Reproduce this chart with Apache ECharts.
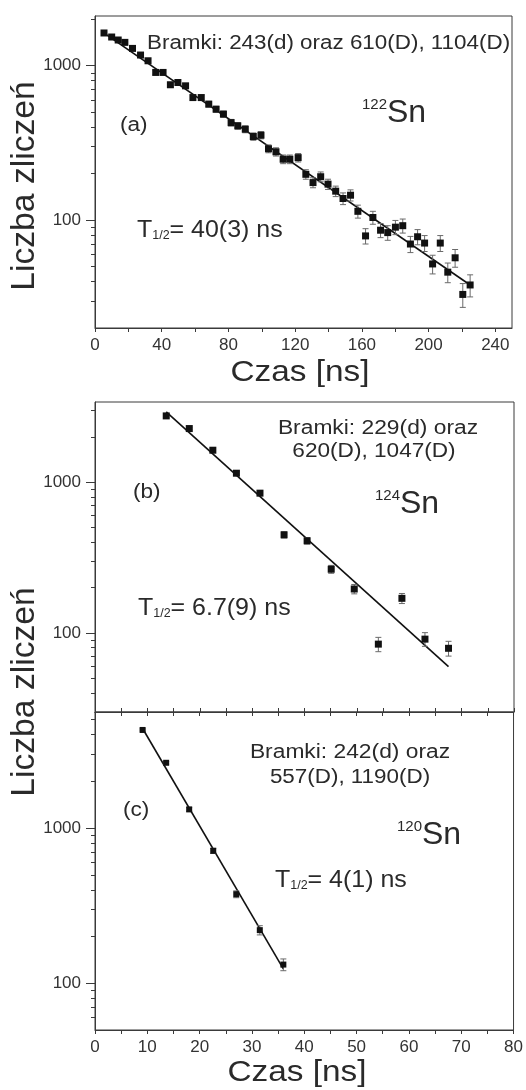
<!DOCTYPE html>
<html><head><meta charset="utf-8">
<script src="https://cdn.jsdelivr.net/npm/echarts@6/dist/echarts.min.js"></script>
<style>html,body{margin:0;padding:0;background:#fff}#c{width:526px;height:1090px}</style>
</head><body><div id="c"></div>
<script>
// ---- Panel (a): 122Sn ----
const timeA = [5.4, 10.0, 13.9, 17.9, 22.5, 27.3, 31.8, 36.4, 40.8, 45.2, 49.7, 54.3, 58.7, 63.7, 68.2, 72.6, 77.0, 81.6, 85.6, 90.1, 94.9, 99.5, 104.0, 108.5, 112.8, 116.8, 121.8, 126.4, 130.7, 135.3, 139.7, 144.3, 148.7, 153.2, 157.6, 162.2, 166.6, 171.2, 175.5, 180.1, 184.5, 189.1, 193.4, 197.6, 202.4, 207.0, 211.5, 215.9, 220.5, 224.9];
const countsA = [1630, 1535, 1468, 1417, 1295, 1173, 1077, 905, 905, 753, 779, 741, 622, 622, 564, 523, 486, 428, 408, 388, 348, 355, 290, 277, 248, 248, 254, 198, 175, 191, 171, 154, 138, 145, 114, 79, 104, 86, 83, 90, 92, 70, 78, 71, 52, 71, 46, 57, 33, 38];
const errA = [40, 39, 38, 38, 36, 34, 33, 30, 30, 27, 28, 27, 25, 25, 24, 23, 22, 21, 20, 20, 19, 19, 17, 17, 16, 16, 16, 14, 13, 14, 13, 12, 12, 12, 11, 9, 10, 9, 9, 9.5, 9.6, 8.4, 8.8, 8.4, 7.2, 8.4, 6.7, 7.5, 5.8, 6.2];
const fitTimeA = [4.8, 224.9];
const fitCountsA = [1644, 38];

// ---- Panel (b): 124Sn ----
const timeB = [13.6, 18.0, 22.5, 27.0, 31.5, 36.1, 40.5, 45.1, 49.5, 54.1, 58.6, 63.0, 67.5];
const countsB = [2750, 2267, 1629, 1147, 846, 448, 409, 265, 196, 84.5, 170, 91.2, 79.3];
const errB = [52, 48, 40, 34, 29, 21, 20, 16, 14, 9.2, 13, 9.5, 8.9];
const fitTimeB = [13.6, 67.5];
const fitCountsB = [2926, 60];

// ---- Panel (c): 120Sn ----
const timeC = [9.1, 13.6, 18.0, 22.6, 27.0, 31.5, 36.0];
const countsC = [4290, 2636, 1320, 714, 375, 220, 132];
const errC = [65, 51, 36, 27, 19, 15, 11.5];
const fitTimeC = [9.1, 36.0];
const fitCountsC = [4385, 124];

// ---- Axis ticks / labels ----
const xTicksA = [0, 20, 40, 60, 80, 100, 120, 140, 160, 180, 200, 220, 240];
const xLabelsA = [0, 40, 80, 120, 160, 200, 240];
const xTicksBC = [0, 5, 10, 15, 20, 25, 30, 35, 40, 45, 50, 55, 60, 65, 70, 75, 80];
const xLabelsBC = [0, 10, 20, 30, 40, 50, 60, 70, 80];
const yLabels = [100, 1000];
const yMinorA = [30, 40, 50, 60, 70, 80, 90, 200, 300, 400, 500, 600, 700, 800, 900, 2000];
const yMinorB = [40, 50, 60, 70, 80, 90, 200, 300, 400, 500, 600, 700, 800, 900, 2000, 3000];
const yMinorC = [60, 70, 80, 90, 200, 300, 400, 500, 600, 700, 800, 900, 2000, 3000, 4000, 5000];

const FONT = 'Liberation Sans, Arial, Helvetica, sans-serif';
const AX = '#3a3a3a';
const TXT = '#2a2a2a';

const zip = (a, b) => a.map((v, i) => [v, b[i]]);
const zip3 = (a, b, c) => a.map((v, i) => [v, b[i], c[i]]);

function xAxisDef(grid, max, ticks, labels, pos, inside) {
  return {
    gridIndex: grid, type: 'value', min: 0, max: max, position: pos,
    axisLine: { show: true, lineStyle: { color: AX, width: 1 } },
    splitLine: { show: false },
    axisTick: { show: true, inside: inside, length: 4, customValues: ticks, lineStyle: { color: AX } },
    axisLabel: labels ? { customValues: labels, fontSize: 17, color: '#333', margin: 9, fontFamily: FONT } : { show: false }
  };
}
function yMajor(grid, min, max) {
  return {
    gridIndex: grid, type: 'log', logBase: 10, min: min, max: max, position: 'left', offset: 0,
    axisLine: { show: true, lineStyle: { color: AX, width: 1 } },
    splitLine: { show: false },
    axisTick: { show: true, length: 9, customValues: yLabels, lineStyle: { color: AX } },
    axisLabel: { customValues: yLabels, formatter: v => String(Math.round(v)), fontSize: 17, color: '#333', margin: 14, fontFamily: FONT }
  };
}
function yMinor(grid, min, max, ticks) {
  return {
    gridIndex: grid, type: 'log', logBase: 10, min: min, max: max, position: 'left', offset: 0,
    axisLine: { show: false },
    splitLine: { show: false },
    axisTick: { show: true, length: 4, customValues: ticks, lineStyle: { color: AX } },
    axisLabel: { show: false }
  };
}
function errSeries(xi, yi, data, cap) {
  return {
    type: 'custom', xAxisIndex: xi, yAxisIndex: yi, z: 3,
    encode: { x: 0, y: 1 },
    data: data,
    renderItem: function (params, api) {
      const x = api.value(0), y = api.value(1), e = api.value(2);
      const lo = api.coord([x, y - e]);
      const hi = api.coord([x, y + e]);
      const st = { stroke: '#6a6a6a', lineWidth: 1 };
      return { type: 'group', children: [
        { type: 'line', shape: { x1: lo[0], y1: lo[1], x2: hi[0], y2: hi[1] }, style: st },
        { type: 'line', shape: { x1: lo[0] - cap, y1: lo[1], x2: lo[0] + cap, y2: lo[1] }, style: st },
        { type: 'line', shape: { x1: hi[0] - cap, y1: hi[1], x2: hi[0] + cap, y2: hi[1] }, style: st }
      ] };
    }
  };
}
function fitSeries(xi, yi, data) {
  return { type: 'line', xAxisIndex: xi, yAxisIndex: yi, data: data, showSymbol: false, symbol: 'none', z: 2,
    lineStyle: { color: '#111', width: 1.6 }, silent: true };
}
function ptSeries(xi, yi, data, size) {
  return { type: 'scatter', xAxisIndex: xi, yAxisIndex: yi, data: data, symbol: 'rect', symbolSize: size, z: 4,
    itemStyle: { color: '#111', opacity: 1 } };
}
function txt(x, y, text, size, align, sx) {
  return { type: 'text', x: x, y: y, scaleX: sx || 1, z: 100,
    style: { text: text, fontSize: size, fontFamily: FONT, fill: TXT, align: align, verticalAlign: 'middle' } };
}
function isotope(x, y, mass) {
  return { type: 'text', x: x, y: y, z: 100,
    style: { text: '{s|' + mass + '}{b|Sn}', align: 'left', verticalAlign: 'middle', fill: TXT, fontFamily: FONT,
      rich: { s: { fontSize: 15, fontFamily: FONT, fill: TXT, verticalAlign: 'top' },
              b: { fontSize: 32, fontFamily: FONT, fill: TXT } } } };
}
function halfLife(x, y, rest, sx) {
  return { type: 'text', x: x, y: y, z: 100, scaleX: sx || 1,
    style: { text: '{b|T}{s|1/2}{b|= ' + rest + '}', align: 'left', verticalAlign: 'middle', fill: TXT, fontFamily: FONT,
      rich: { b: { fontSize: 24, fontFamily: FONT, fill: TXT },
              s: { fontSize: 12, fontFamily: FONT, fill: TXT, verticalAlign: 'bottom' } } } };
}
function vTitle(x, y, text, sx) {
  return { type: 'text', x: x, y: y, rotation: Math.PI / 2, scaleX: sx, z: 100,
    style: { text: text, fontSize: 33, fontFamily: FONT, fill: TXT, align: 'center', verticalAlign: 'middle' } };
}

const chart = echarts.init(document.getElementById('c'), null, { renderer: 'canvas' });
chart.setOption({
  animation: false,
  backgroundColor: '#fff',
  grid: [
    { left: 95, top: 16, width: 417, height: 312, show: true, borderColor: AX, borderWidth: 1, backgroundColor: 'transparent' },
    { left: 95, top: 402, width: 419, height: 310, show: true, borderColor: AX, borderWidth: 1, backgroundColor: 'transparent' },
    { left: 95, top: 712, width: 419, height: 318, show: true, borderColor: AX, borderWidth: 1, backgroundColor: 'transparent' }
  ],
  xAxis: [
    xAxisDef(0, 250, xTicksA, xLabelsA, 'bottom', false),
    xAxisDef(1, 80, xTicksBC, null, 'bottom', true),
    xAxisDef(2, 80, xTicksBC, xLabelsBC, 'bottom', false),
    xAxisDef(2, 80, xTicksBC, null, 'top', true)
  ],
  yAxis: [
    yMajor(0, 20, 2100), yMinor(0, 20, 2100, yMinorA),
    yMajor(1, 30, 3400), yMinor(1, 30, 3400, yMinorB),
    yMajor(2, 50, 5600), yMinor(2, 50, 5600, yMinorC)
  ],
  series: [
    fitSeries(0, 0, zip(fitTimeA, fitCountsA)),
    errSeries(0, 0, zip3(timeA, countsA, errA), 3),
    ptSeries(0, 0, zip(timeA, countsA), 7),
    fitSeries(1, 2, zip(fitTimeB, fitCountsB)),
    errSeries(1, 2, zip3(timeB, countsB, errB), 3),
    ptSeries(1, 2, zip(timeB, countsB), 7),
    fitSeries(2, 4, zip(fitTimeC, fitCountsC)),
    errSeries(2, 4, zip3(timeC, countsC, errC), 3),
    ptSeries(2, 4, zip(timeC, countsC), 6)
  ],
  graphic: [
    txt(147, 43, 'Bramki: 243(d) oraz 610(D), 1104(D)', 20, 'left', 1.12),
    txt(120, 125, '(a)', 20, 'left', 1.13),
    isotope(362, 113, '122'),
    halfLife(137, 230, '40(3) ns', 1.04),
    txt(378, 428, 'Bramki: 229(d) oraz', 20, 'center', 1.14),
    txt(374, 451, '620(D), 1047(D)', 20, 'center', 1.13),
    txt(133, 492, '(b)', 20, 'left', 1.13),
    isotope(375, 504, '124'),
    halfLife(138, 608, '6.7(9) ns', 1.04),
    txt(350, 752, 'Bramki: 242(d) oraz', 20, 'center', 1.14),
    txt(350, 777, '557(D), 1190(D)', 20, 'center', 1.12),
    txt(123, 810, '(c)', 20, 'left', 1.13),
    isotope(397, 835, '120'),
    halfLife(275, 880, '4(1) ns', 1.04),
    txt(300, 373, 'Czas [ns]', 29, 'center', 1.15),
    txt(297, 1073, 'Czas [ns]', 29, 'center', 1.15),
    vTitle(25, 186, 'Liczba zliczeń', 1.02),
    vTitle(25, 692, 'Liczba zliczeń', 1.02)
  ]
});
</script></body></html>
